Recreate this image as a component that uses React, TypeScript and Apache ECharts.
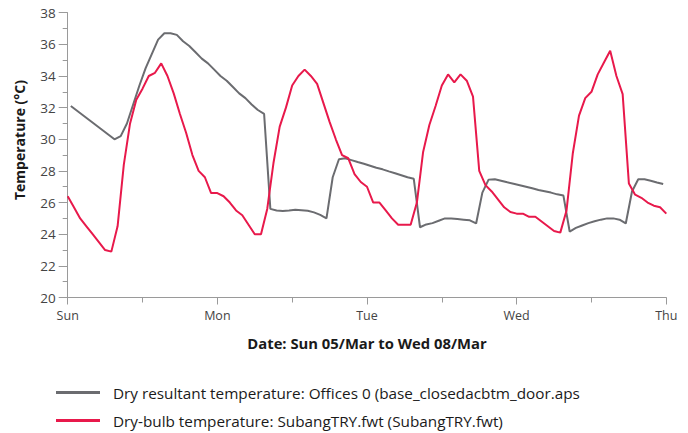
import React, { useEffect, useRef } from "react";
import * as echarts from "echarts";

const DAY_LABELS = ["Sun", "Mon", "Tue", "Wed", "Thu"];
const HOURS_PER_DAY = 24;
const OFFICE_OFFSET_H = 0.5; // hourly-average series plotted mid-hour

const OFFICE_NAME = "Dry resultant temperature: Offices 0 (base_closedacbtm_door.aps";
const OUTDOOR_NAME = "Dry-bulb temperature: SubangTRY.fwt (SubangTRY.fwt)";

// Dry resultant temperature, Offices 0 (hourly, °C)
const officeTemp = [
  32.1, 31.8, 31.5, 31.2, 30.9, 30.6, 30.3, 30.0,
  30.2, 31.0, 32.2, 33.4, 34.5, 35.4, 36.3, 36.7, 36.7, 36.6,
  36.2, 35.9, 35.5, 35.1, 34.8, 34.4, 34.0, 33.7, 33.3, 32.9, 32.6, 32.2, 31.85, 31.6,
  25.6, 25.5, 25.47, 25.5, 25.54, 25.52, 25.48, 25.38, 25.22, 25.0,
  27.6, 28.74, 28.8, 28.68, 28.56, 28.45, 28.33, 28.2, 28.1, 27.97, 27.85, 27.73, 27.6, 27.5,
  24.44, 24.62, 24.7, 24.85, 25.0, 25.0, 24.96, 24.92, 24.88, 24.68,
  26.63, 27.45, 27.47, 27.38, 27.28, 27.19, 27.1, 27.0, 26.9, 26.8, 26.72, 26.63, 26.52, 26.44,
  24.17, 24.4, 24.55, 24.7, 24.82, 24.92, 25.0, 25.0, 24.92, 24.68, 26.7, 27.47, 27.47, 27.38, 27.27, 27.17,
];

// Dry-bulb temperature, SubangTRY (hourly, °C)
const outdoorTemp = [
  26.4, 25.7, 25.0, 24.5, 24.0, 23.5, 23.0, 22.9, 24.5, 28.4, 31.0, 32.5,
  33.2, 34.0, 34.2, 34.8, 34.0, 32.9, 31.6, 30.4, 29.0, 28.0, 27.6, 26.6,
  26.6, 26.4, 26.0, 25.5, 25.2, 24.6, 24.0, 24.0, 25.6, 28.5, 30.8, 32.0,
  33.4, 34.0, 34.4, 34.0, 33.5, 32.3, 31.1, 30.0, 29.0, 28.8, 27.8, 27.3,
  27.0, 26.0, 26.0, 25.5, 25.0, 24.6, 24.6, 24.6, 26.0, 29.2, 30.9, 32.1,
  33.4, 34.1, 33.6, 34.1, 33.7, 32.7, 28.0, 27.1, 26.7, 26.2, 25.7, 25.4,
  25.3, 25.3, 25.1, 25.1, 24.8, 24.5, 24.2, 24.1, 25.5, 29.1, 31.5, 32.6,
  33.0, 34.1, 34.85, 35.6, 34.0, 32.85, 27.2, 26.5, 26.3, 26.0, 25.8, 25.7,
  25.3,
];

const Y_MIN = 20;
const Y_MAX = 38;
const Y_STEP = 2;

const FONT = "'Open Sans', Lato, sans-serif";
const OFFICE_COLOR = "#6b6c70";
const OUTDOOR_COLOR = "#e8194b";

const legendBase = {
  orient: "horizontal",
  left: 51,
  itemWidth: 44,
  itemHeight: 3,
  icon: "rect",
  textStyle: { fontFamily: FONT, fontSize: 15.3, color: "#1a1a1a", padding: [0, 0, 0, 8] },
};

export default function App() {
  const ref = useRef<HTMLDivElement>(null);

  useEffect(() => {
    if (!ref.current) return;
    const chart = echarts.init(ref.current, undefined, { renderer: "svg" });

    const officeData = officeTemp.map((v, i) => [i + OFFICE_OFFSET_H, v]);
    const outdoorData = outdoorTemp.map((v, i) => [i, v]);

    chart.setOption({
      animation: false,
      textStyle: { fontFamily: FONT },
      grid: { left: 67.7, right: 21.7, top: 12.7, bottom: 135.5, containLabel: false },
      xAxis: {
        type: "value",
        min: 0,
        max: (DAY_LABELS.length - 1) * HOURS_PER_DAY,
        interval: HOURS_PER_DAY,
        name: "Date: Sun 05/Mar to Wed 08/Mar",
        nameLocation: "middle",
        nameGap: 38,
        nameTextStyle: { fontFamily: FONT, fontSize: 14.8, fontWeight: "bold", color: "#1a1a1a" },
        axisLine: { show: true, lineStyle: { color: "#9a9a9a", width: 1 } },
        axisTick: { show: true, length: 7, lineStyle: { color: "#9a9a9a" } },
        minorTick: { show: true, splitNumber: 2, length: 5, lineStyle: { color: "#9a9a9a" } },
        splitLine: { show: false },
        axisLabel: {
          margin: 11,
          fontSize: 12.5,
          color: "#444",
          fontFamily: FONT,
          formatter: (v: number) => DAY_LABELS[Math.round(v / HOURS_PER_DAY)] ?? "",
        },
      },
      yAxis: {
        type: "value",
        min: Y_MIN,
        max: Y_MAX,
        interval: Y_STEP,
        axisLine: { show: true, lineStyle: { color: "#9a9a9a", width: 1 } },
        axisTick: { show: true, length: 9, lineStyle: { color: "#9a9a9a" } },
        minorTick: { show: true, splitNumber: 2, length: 5, lineStyle: { color: "#9a9a9a" } },
        splitLine: { show: false },
        axisLabel: { margin: 12, fontSize: 13.5, color: "#444", fontFamily: FONT },
      },
      legend: [
        { ...legendBase, top: 380, data: [OFFICE_NAME] },
        { ...legendBase, top: 408, data: [OUTDOOR_NAME] },
      ],
      graphic: [
        {
          type: "text",
          x: 19,
          y: 140,
          rotation: Math.PI / 2,
          style: {
            text: "Temperature (°C)",
            fontFamily: FONT,
            fontSize: 14,
            fontWeight: "bold",
            fill: "#1a1a1a",
            textAlign: "center",
            textVerticalAlign: "middle",
          },
        },
      ],
      series: [
        {
          name: OFFICE_NAME,
          type: "line",
          data: officeData,
          showSymbol: false,
          symbol: "none",
          lineStyle: { color: OFFICE_COLOR, width: 2 },
          itemStyle: { color: OFFICE_COLOR },
          z: 2,
        },
        {
          name: OUTDOOR_NAME,
          type: "line",
          data: outdoorData,
          showSymbol: false,
          symbol: "none",
          lineStyle: { color: OUTDOOR_COLOR, width: 2 },
          itemStyle: { color: OUTDOOR_COLOR },
          z: 3,
        },
      ],
    });

    return () => chart.dispose();
  }, []);

  return <div ref={ref} style={{ width: 688, height: 433, position: "absolute", left: 0, top: 0 }} />;
}
